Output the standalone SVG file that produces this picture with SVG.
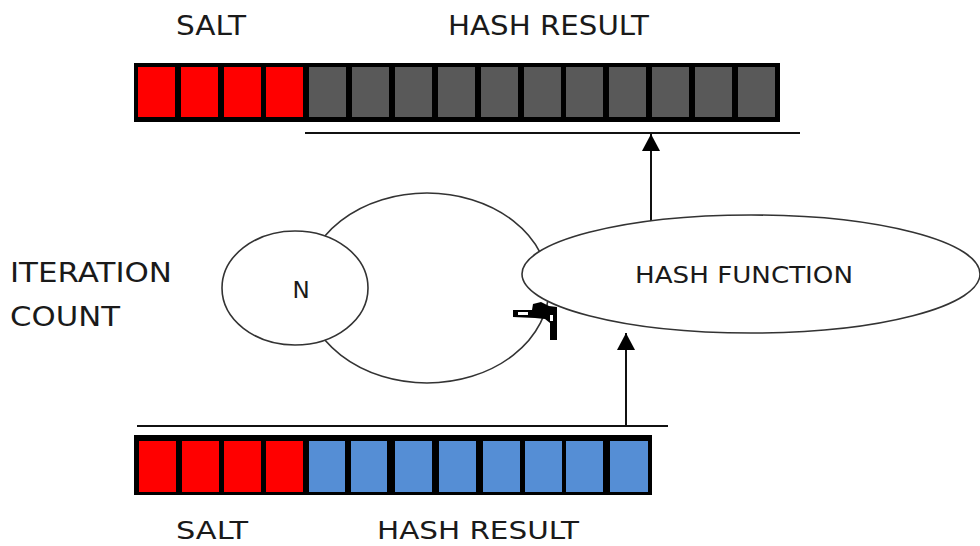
<svg xmlns="http://www.w3.org/2000/svg" width="980" height="546" viewBox="0 0 980 546">
<defs>
<style>
.lbl{font-family:"DejaVu Sans","Liberation Sans",sans-serif;fill:#1a1a1a;}
.bar{fill:#000;}
.red{fill:#ff0000;}
.grey{fill:#595959;}
.blue{fill:#558ed5;}
.shape{fill:#fff;stroke:#333;stroke-width:1.6;}
.conn{stroke:#111;stroke-width:2;fill:none;}
</style>
<marker id="ah" viewBox="0 0 10 10" refX="10" refY="5" markerWidth="17" markerHeight="18" markerUnits="userSpaceOnUse" orient="auto" preserveAspectRatio="none">
<path d="M0,0 L10,5 L0,10 z" fill="#000"/>
</marker>
</defs>
<rect width="980" height="546" fill="#fff"/>

<g id="top-array">
<rect class="bar" x="134" y="63" width="646" height="59"/>
<rect class="red" x="138" y="67" width="37" height="50"/>
<rect class="red" x="181" y="67" width="37" height="50"/>
<rect class="red" x="224" y="67" width="37" height="50"/>
<rect class="red" x="266" y="67" width="37" height="50"/>
<rect class="grey" x="309" y="67" width="37" height="50"/>
<rect class="grey" x="352" y="67" width="37" height="50"/>
<rect class="grey" x="395" y="67" width="37" height="50"/>
<rect class="grey" x="438" y="67" width="37" height="50"/>
<rect class="grey" x="481" y="67" width="37" height="50"/>
<rect class="grey" x="524" y="67" width="37" height="50"/>
<rect class="grey" x="566" y="67" width="37" height="50"/>
<rect class="grey" x="609" y="67" width="37" height="50"/>
<rect class="grey" x="652" y="67" width="37" height="50"/>
<rect class="grey" x="695" y="67" width="37" height="50"/>
<rect class="grey" x="738" y="67" width="37" height="50"/>
<text class="lbl" x="176" y="35" font-size="27" textLength="70" lengthAdjust="spacingAndGlyphs">SALT</text>
<text class="lbl" x="448" y="35" font-size="27" textLength="201" lengthAdjust="spacingAndGlyphs">HASH RESULT</text>
</g>

<g id="bottom-array">
<rect class="bar" x="134" y="435" width="518" height="60"/>
<rect class="red" x="139" y="441" width="37" height="51"/>
<rect class="red" x="182" y="441" width="37" height="51"/>
<rect class="red" x="224" y="441" width="37" height="51"/>
<rect class="red" x="266" y="441" width="37" height="51"/>
<rect class="blue" x="309" y="441" width="36" height="51"/>
<rect class="blue" x="351" y="441" width="36" height="51"/>
<rect class="blue" x="395" y="441" width="37" height="51"/>
<rect class="blue" x="439" y="441" width="37" height="51"/>
<rect class="blue" x="483" y="441" width="37" height="51"/>
<rect class="blue" x="525" y="441" width="37" height="51"/>
<rect class="blue" x="566" y="441" width="37" height="51"/>
<rect class="blue" x="610" y="441" width="38" height="51"/>
<text class="lbl" x="176" y="539" font-size="24" textLength="72" lengthAdjust="spacingAndGlyphs">SALT</text>
<text class="lbl" x="377" y="539" font-size="24" textLength="202" lengthAdjust="spacingAndGlyphs">HASH RESULT</text>
</g>

<g id="iteration-label">
<text class="lbl" x="10" y="282" font-size="26" textLength="162" lengthAdjust="spacingAndGlyphs">ITERATION</text>
<text class="lbl" x="10" y="326" font-size="26" textLength="110" lengthAdjust="spacingAndGlyphs">COUNT</text>
</g>

<g id="connectors">
<line class="conn" x1="305" y1="133" x2="800" y2="133" stroke="#444"/>
<line class="conn" x1="137" y1="426" x2="668" y2="426"/>
<ellipse cx="427" cy="288" rx="122" ry="95" fill="none" stroke="#333" stroke-width="1.6"/>
<line class="conn" x1="651" y1="233" x2="651" y2="134" stroke-width="1.8" marker-end="url(#ah)"/>
<line class="conn" x1="626" y1="425" x2="626" y2="333" stroke-width="1.8" marker-end="url(#ah)"/>
</g>

<g id="node-n">
<ellipse class="shape" cx="295" cy="288" rx="73" ry="57"/>
<text class="lbl" x="301" y="298" font-size="23" text-anchor="middle">N</text>
</g>

<g id="node-hash-function">
<ellipse class="shape" cx="751" cy="274" rx="229" ry="59"/>
<text class="lbl" x="744" y="283" font-size="23" text-anchor="middle" textLength="218" lengthAdjust="spacingAndGlyphs">HASH FUNCTION</text>
</g>

<g id="loop-arrowhead">
<path d="M513,310 L532,310 L533,304 L541,302 L549,306 L557,307 L557,340 L550,340 L550,323 L545,319 L535,318 L513,317 Z" fill="#000"/>
<rect x="550" y="315" width="3" height="6" fill="#fff"/>
<rect x="518" y="312" width="10" height="3" fill="#fff"/>
</g>
</svg>
